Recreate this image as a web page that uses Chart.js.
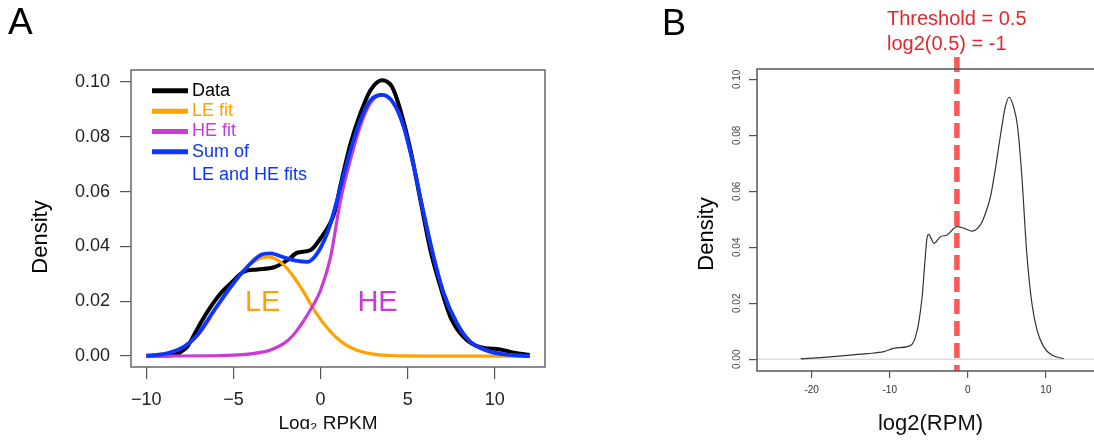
<!DOCTYPE html>
<html>
<head>
<meta charset="utf-8">
<script src="https://cdn.jsdelivr.net/npm/chart.js@4.4.0/dist/chart.umd.min.js"></script>
<style>
  html,body{margin:0;padding:0;background:#fff;}
  #wrap{position:relative;width:1094px;height:441px;overflow:hidden;background:#fff;}
  #boxA{position:absolute;left:0;top:0;width:560px;height:429px;overflow:hidden;}
  #boxB{position:absolute;left:600px;top:0;width:494px;height:441px;overflow:hidden;}
  canvas{display:block;}
</style>
</head>
<body>
<div id="wrap">
  <div id="boxA"><canvas id="chartA" width="560" height="441"></canvas></div>
  <div id="boxB"><canvas id="chartB" width="520" height="441"></canvas></div>
</div>
<script>
// ---- panel A: mixture fit of log2 RPKM density ----
const xTicksA = [-10, -5, 0, 5, 10];
const yTicksA = [0, 0.02, 0.04, 0.06, 0.08, 0.10];
const legendA = ["Data", "LE fit", "HE fit", "Sum of", "LE and HE fits"];

const dataX = [-10, -9.2, -8.4, -8.0, -7.65, -7.26, -6.9, -6.3, -5.73, -5.16, -4.4, -3.63, -2.67, -1.9, -1.34, -0.57, 0, 0.57, 0.85, 1.15, 1.72, 2.29, 2.87, 3.53, 4.1, 4.58, 5.16, 5.73, 6.3, 6.88, 7.45, 8.2, 9.17, 10.3, 11.1, 12];
const dataY = [0.0001, 0.0002, 0.0004, 0.0016, 0.0034, 0.0077, 0.0119, 0.018, 0.0229, 0.0265, 0.0308, 0.0316, 0.0324, 0.035, 0.0377, 0.0387, 0.043, 0.0487, 0.0535, 0.0625, 0.0776, 0.0886, 0.0971, 0.1007, 0.0983, 0.0898, 0.0752, 0.0569, 0.0387, 0.0253, 0.0143, 0.007, 0.0032, 0.0024, 0.0012, 0.0004];

const leX = [-10, -9, -8, -7, -6, -5, -4.2, -3.5, -3.0, -2.5, -2.0, -1.5, -1.0, -0.48, 0, 0.5, 1, 1.5, 2, 3, 4, 5, 6, 8, 10, 12];
const leY = [0.0001, 0.0008, 0.0028, 0.0078, 0.0172, 0.0262, 0.0326, 0.0356, 0.0362, 0.0352, 0.0325, 0.0285, 0.0237, 0.018, 0.0134, 0.0094, 0.0062, 0.0039, 0.0023, 0.0007, 0.0002, 0.00005, 0, 0, 0, 0];

const heX = [-10, -6, -5, -4, -3.2, -2.87, -2.1, -1.6, -1.34, -1.0, -0.48, 0, 0.57, 1.15, 1.72, 2.29, 2.87, 3.53, 4.2, 4.77, 5.35, 5.92, 6.49, 7.07, 7.83, 8.6, 9.74, 10.9, 12];
const heY = [0, 0.0001, 0.0003, 0.0008, 0.0016, 0.0022, 0.0046, 0.0074, 0.0095, 0.0126, 0.018, 0.024, 0.036, 0.057, 0.0718, 0.0842, 0.0924, 0.0953, 0.0922, 0.0837, 0.0691, 0.0521, 0.0362, 0.0229, 0.0119, 0.0052, 0.0016, 0.0004, 0];

const sumX = [-10, -9.4, -8.8, -7.83, -7.07, -6.1, -5.16, -4.2, -3.44, -2.87, -2.1, -1.34, -0.76, -0.19, 0.38, 0.57, 1.15, 1.72, 2.29, 2.87, 3.53, 4.2, 4.77, 5.35, 5.92, 6.49, 7.07, 7.83, 8.6, 9.74, 10.9, 12];
const sumY = [0.0001, 0.0004, 0.001, 0.0034, 0.0077, 0.0168, 0.0253, 0.0326, 0.0369, 0.0375, 0.036, 0.0347, 0.0344, 0.0375, 0.0448, 0.0484, 0.0618, 0.0752, 0.0861, 0.0934, 0.0953, 0.0922, 0.0837, 0.0691, 0.0521, 0.0362, 0.0229, 0.0119, 0.0052, 0.0016, 0.0004, 0];

// ---- panel B: log2 RPM density with threshold ----
const xTicksB = [-20, -10, 0, 10];
const yTicksB = [0, 0.02, 0.04, 0.06, 0.08, 0.10];
const rpmX = [-21.4, -18.4, -15.4, -12.9, -10.75, -9.5, -7.8, -7.1, -6.7, -6.3, -5.85, -5.55, -5.2, -5.0, -4.7, -4.35, -3.5, -2.65, -1.4, -0.5, 0.55, 1.6, 2.25, 2.9, 3.5, 4.15, 4.8, 5.3, 5.85, 6.35, 6.9, 7.55, 8.2, 8.85, 9.7, 10.75, 12.25];
const rpmY = [0.0001, 0.0007, 0.0014, 0.002, 0.0027, 0.0039, 0.0045, 0.0055, 0.008, 0.0129, 0.0224, 0.033, 0.0438, 0.0446, 0.0432, 0.0414, 0.0438, 0.0444, 0.0474, 0.0468, 0.0458, 0.048, 0.0521, 0.0581, 0.0676, 0.0795, 0.0902, 0.0936, 0.0902, 0.0835, 0.066, 0.0378, 0.02, 0.0105, 0.0045, 0.0015, 0.0002];
const thresholdX = -1.4;
const thresholdY = [0.108, -0.0042];
const thresholdText = ["Threshold = 0.5", "log2(0.5) = -1"];

const FONT = "'Liberation Sans', Arial, Helvetica, sans-serif";
Chart.defaults.font.family = FONT;
Chart.defaults.animation = false;

const pts = (xs, ys) => xs.map((x, i) => ({x, y: ys[i]}));
const minus = v => (v < 0 ? "\u2212" + Math.abs(v) : String(v));

function text(ctx, s, x, y, size, color, align, rot){
  ctx.save();
  ctx.font = size + "px " + FONT;
  ctx.fillStyle = color;
  ctx.textAlign = align || "left";
  ctx.textBaseline = "middle";
  ctx.translate(x, y);
  if (rot) ctx.rotate(rot);
  ctx.fillText(s, 0, 0);
  ctx.restore();
}

const COL = {data:"#000000", le:"#ffa200", he:"#c93ad8", sum:"#0a36ff"};

const decorA = {
  id:"decorA",
  afterDraw(chart){
    const {ctx, chartArea:a, scales:{x, y}} = chart;
    ctx.save();
    ctx.strokeStyle = "#666"; ctx.lineWidth = 1.5;
    ctx.strokeRect(a.left, a.top, a.right - a.left, a.bottom - a.top);
    // legend inside plot, R style
    const cols = [COL.data, COL.le, COL.he, COL.sum];
    const rows = [20.7, 41.2, 61.5, 81.7, 105];
    ctx.lineWidth = 5; ctx.lineCap = "butt";
    cols.forEach((c, i) => {
      ctx.strokeStyle = c;
      ctx.beginPath(); ctx.moveTo(a.left + 21, a.top + rows[i]); ctx.lineTo(a.left + 57, a.top + rows[i]); ctx.stroke();
    });
    legendA.forEach((s, i) => text(ctx, s, a.left + 61, a.top + rows[i], 18, cols[Math.min(i, 3)]));
    ctx.restore();
    text(ctx, "LE", x.getPixelForValue(-3.32), y.getPixelForValue(0.0193), 29, COL.le, "center");
    text(ctx, "HE", x.getPixelForValue(3.27), y.getPixelForValue(0.0193), 29, COL.he, "center");
    text(ctx, "A", 8, 24, 37, "#000");
    text(ctx, "Density", 41, 237, 22, "#000", "center", -Math.PI / 2);
    ctx.save();
    ctx.font = "19px " + FONT; ctx.fillStyle = "#111"; ctx.textAlign = "center"; ctx.textBaseline = "alphabetic";
    ctx.fillText("Log\u2082 RPKM", 328, 429);
    ctx.restore();
  }
};

new Chart(document.getElementById("chartA"), {
  type:"line",
  data:{
    datasets:[
      {label:"Sum of LE and HE fits", data:pts(sumX, sumY), borderColor:COL.sum, borderWidth:3.8, order:0},
      {label:"HE fit", data:pts(heX, heY), borderColor:COL.he, borderWidth:3.2, order:1},
      {label:"LE fit", data:pts(leX, leY), borderColor:COL.le, borderWidth:3.2, order:2},
      {label:"Data", data:pts(dataX, dataY), borderColor:COL.data, borderWidth:4, order:3},
    ].map(d => Object.assign(d, {pointRadius:0, fill:false, cubicInterpolationMode:"monotone"}))
  },
  options:{
    responsive:false,
    layout:{padding:{top:70, right:15, left:0, bottom:0}},
    plugins:{legend:{display:false}, tooltip:{enabled:false}},
    scales:{
      x:{
        type:"linear", min:-10.88, max:12.88,
        afterBuildTicks:s => { s.ticks = xTicksA.map(v => ({value:v})); },
        afterFit:s => { s.height = 74; },
        grid:{drawOnChartArea:false, tickLength:12, color:"#555", lineWidth:1.2},
        border:{display:false},
        ticks:{padding:10, color:"#222", font:{size:18}, maxRotation:0, callback:v => minus(v)}
      },
      y:{
        min:-0.004, max:0.1044,
        afterBuildTicks:s => { s.ticks = yTicksA.map(v => ({value:v})); },
        afterFit:s => { s.width = 131; },
        grid:{drawOnChartArea:false, tickLength:11, color:"#555", lineWidth:1.2},
        border:{display:false},
        ticks:{padding:10, color:"#222", font:{size:18}, callback:v => v.toFixed(2)}
      }
    }
  },
  plugins:[decorA]
});

const decorB = {
  id:"decorB",
  beforeDatasetsDraw(chart){
    const {ctx, chartArea:a, scales:{y}} = chart;
    const y0 = y.getPixelForValue(0);
    ctx.save();
    ctx.strokeStyle = "#dcdcdc"; ctx.lineWidth = 1.5;
    ctx.beginPath(); ctx.moveTo(a.left, y0); ctx.lineTo(a.right, y0); ctx.stroke();
    ctx.restore();
  },
  afterDraw(chart){
    const {ctx, chartArea:a} = chart;
    ctx.save();
    ctx.strokeStyle = "#555"; ctx.lineWidth = 1.5;
    ctx.strokeRect(a.left, a.top, a.right - a.left, a.bottom - a.top);
    ctx.restore();
    text(ctx, "B", 62, 25, 36, "#000");
    text(ctx, "Density", 106.7, 234, 22, "#000", "center", -Math.PI / 2);
    ctx.save();
    ctx.font = "22px " + FONT; ctx.fillStyle = "#111"; ctx.textAlign = "center"; ctx.textBaseline = "alphabetic";
    ctx.fillText("log2(RPM)", 330.5, 430);
    ctx.fillStyle = "#e3262c"; ctx.font = "20px " + FONT; ctx.textAlign = "left";
    ctx.fillText(thresholdText[0], 287, 25);
    ctx.fillText(thresholdText[1], 287, 50);
    ctx.restore();
  }
};

new Chart(document.getElementById("chartB"), {
  type:"line",
  data:{
    datasets:[
      {label:"threshold", data:pts([thresholdX, thresholdX], thresholdY), borderColor:"#ff5656", borderWidth:5.5, borderDash:[15, 7], pointRadius:0, clip:false, order:0},
      {label:"density", data:pts(rpmX, rpmY), borderColor:"#333", borderWidth:1.2, pointRadius:0, fill:false, cubicInterpolationMode:"monotone", order:1}
    ]
  },
  options:{
    responsive:false,
    layout:{padding:{top:69, right:15.5, left:0, bottom:0}},
    plugins:{legend:{display:false}, tooltip:{enabled:false}},
    scales:{
      x:{
        type:"linear", min:-27, max:17.5,
        afterBuildTicks:s => { s.ticks = xTicksB.map(v => ({value:v})); },
        afterFit:s => { s.height = 70; },
        grid:{drawOnChartArea:false, tickLength:7, color:"#555", lineWidth:1.2},
        border:{display:false},
        ticks:{padding:6, color:"#333", font:{size:10}, maxRotation:0, callback:v => String(v)}
      },
      y:{
        min:-0.0042, max:0.1037,
        afterBuildTicks:s => { s.ticks = yTicksB.map(v => ({value:v})); },
        afterFit:s => { s.width = 157; },
        grid:{drawOnChartArea:false, tickLength:8, color:"#555", lineWidth:1.2},
        border:{display:false},
        ticks:{padding:2, color:"#444", font:{size:10}, minRotation:90, maxRotation:90, crossAlign:"center", callback:v => v.toFixed(2)}
      }
    }
  },
  plugins:[decorB]
});
</script>
</body>
</html>
